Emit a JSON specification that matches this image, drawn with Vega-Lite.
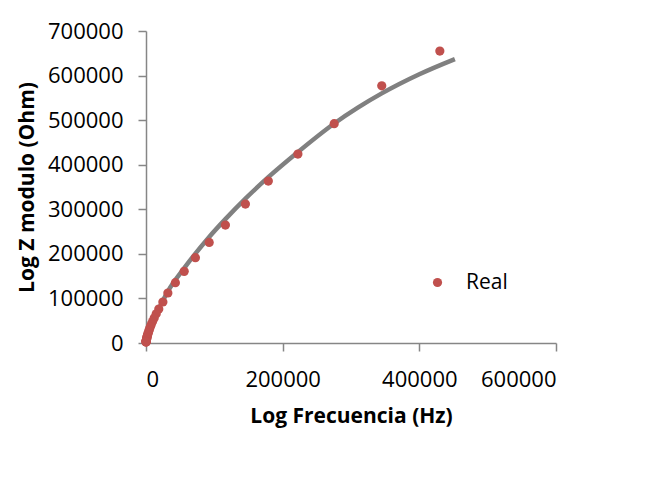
{
  "$schema": "https://vega.github.io/schema/vega-lite/v6.json",
  "width": 410,
  "height": 312,
  "autosize": {"type": "none"},
  "padding": {"left": 146, "top": 31, "right": 97, "bottom": 139},
  "background": "white",
  "config": {
    "view": {"stroke": null},
    "font": "Open Sans",
    "axis": {
      "grid": false,
      "domainColor": "#868686",
      "domainWidth": 1.5,
      "tickColor": "#868686",
      "tickWidth": 1.5,
      "tickSize": 8,
      "labelFont": "Open Sans",
      "labelFontSize": 22,
      "labelColor": "#000000",
      "titleFont": "Open Sans",
      "titleFontSize": 21,
      "titleFontWeight": "bold",
      "titleColor": "#000000"
    }
  },
  "datasets": {
    "real": [
      {"f": 430000, "z": 655000},
      {"f": 345000, "z": 577000},
      {"f": 275400, "z": 492000},
      {"f": 222300, "z": 424000},
      {"f": 179000, "z": 363400},
      {"f": 145500, "z": 311800},
      {"f": 116200, "z": 264700},
      {"f": 92500, "z": 225700},
      {"f": 72300, "z": 191400},
      {"f": 55900, "z": 160700},
      {"f": 43000, "z": 135300},
      {"f": 32000, "z": 112200},
      {"f": 24700, "z": 92000},
      {"f": 18700, "z": 76300},
      {"f": 15000, "z": 65500},
      {"f": 12000, "z": 56200},
      {"f": 9600, "z": 48200},
      {"f": 7700, "z": 41400},
      {"f": 6100, "z": 35200},
      {"f": 4900, "z": 30300},
      {"f": 3900, "z": 25900},
      {"f": 3100, "z": 22100},
      {"f": 2500, "z": 19000},
      {"f": 2000, "z": 16300},
      {"f": 1600, "z": 14000},
      {"f": 1250, "z": 11800},
      {"f": 1000, "z": 10100},
      {"f": 800, "z": 8600},
      {"f": 640, "z": 7400},
      {"f": 500, "z": 6200},
      {"f": 400, "z": 5300},
      {"f": 320, "z": 4500},
      {"f": 250, "z": 3800},
      {"f": 200, "z": 3300},
      {"f": 160, "z": 2800},
      {"f": 125, "z": 2400},
      {"f": 100, "z": 2000}
    ],
    "fit": [
      {"f": 0, "z": 0},
      {"f": 1000, "z": 10000},
      {"f": 3000, "z": 21000},
      {"f": 6000, "z": 35000},
      {"f": 10000, "z": 51000},
      {"f": 18700, "z": 77000},
      {"f": 32000, "z": 116000},
      {"f": 55900, "z": 168000},
      {"f": 92500, "z": 238000},
      {"f": 116200, "z": 278000},
      {"f": 145500, "z": 324000},
      {"f": 179000, "z": 372000},
      {"f": 222000, "z": 428000},
      {"f": 275000, "z": 492000},
      {"f": 310000, "z": 528000},
      {"f": 345000, "z": 560000},
      {"f": 400000, "z": 603000},
      {"f": 452000, "z": 637000}
    ]
  },
  "layer": [
    {
      "data": {"name": "fit"},
      "mark": {"type": "line", "color": "#808080", "strokeWidth": 4.5, "interpolate": "monotone"},
      "encoding": {
        "x": {"field": "f", "type": "quantitative"},
        "y": {"field": "z", "type": "quantitative"}
      }
    },
    {
      "data": {"name": "real"},
      "mark": {"type": "circle", "size": 85, "opacity": 1},
      "encoding": {
        "x": {
          "field": "f",
          "type": "quantitative",
          "scale": {"domain": [0, 600000], "nice": false},
          "axis": {
            "title": "Log Frecuencia (Hz)",
            "values": [0, 200000, 400000, 600000],
            "format": "d",
            "labelPadding": 18,
            "titlePadding": 15
          }
        },
        "y": {
          "field": "z",
          "type": "quantitative",
          "scale": {"domain": [0, 700000], "nice": false},
          "axis": {
            "title": "Log Z modulo (Ohm)",
            "values": [0, 100000, 200000, 300000, 400000, 500000, 600000, 700000],
            "format": "d",
            "labelPadding": 15,
            "titlePadding": 10
          }
        },
        "color": {
          "datum": "Real",
          "type": "nominal",
          "scale": {"domain": ["Real"], "range": ["#C0504D"]},
          "legend": {
            "title": null,
            "orient": "none",
            "legendX": 281,
            "legendY": 241,
            "symbolType": "circle",
            "symbolSize": 85,
            "symbolOpacity": 1,
            "symbolStrokeWidth": 0,
            "labelFont": "Open Sans",
            "labelFontSize": 21,
            "labelColor": "#000000",
            "labelOffset": 18
          }
        }
      }
    }
  ]
}
